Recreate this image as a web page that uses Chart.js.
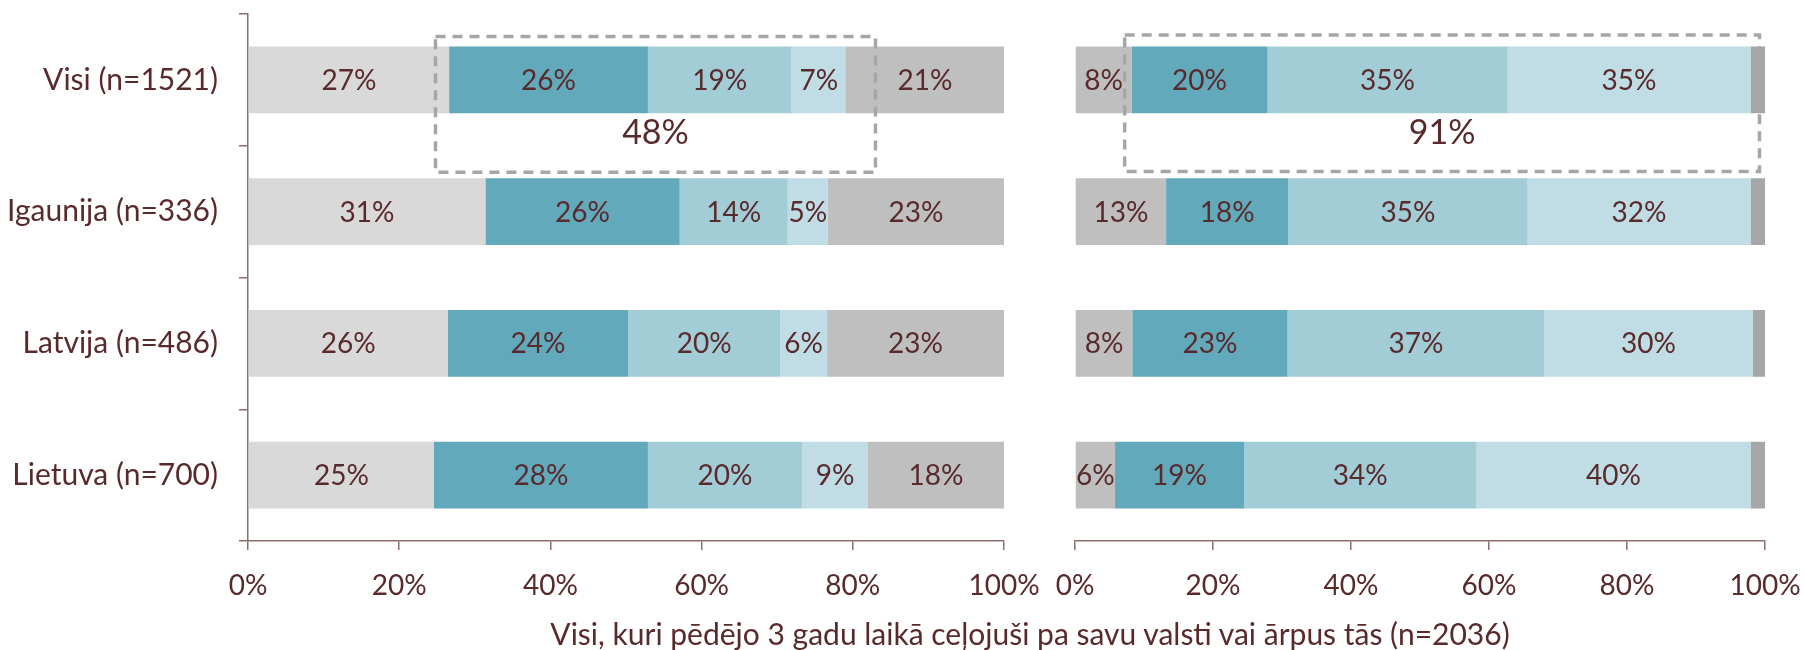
<!DOCTYPE html>
<html lang="lv">
<head>
  <meta charset="UTF-8">
  <title>Ceļojumi</title>
  <script src="https://cdn.jsdelivr.net/npm/chart.js"></script>
  <style>
    body {
      margin: 0;
      background: #fff;
    }

    .wrap {
      position: relative;
      width: 1804px;
      height: 650px;
      overflow: hidden;
      font-family: Lato, sans-serif;
    }

    canvas {
      position: absolute;
      left: 0;
      top: 0;
    }

    .nosaukums {
      position: absolute;
      top: 616px;
      left: 1030px;
      transform: translateX(-50%);
      white-space: nowrap;
      font-size: 30px;
      line-height: 34px;
      color: #592a2b;
    }
  </style>
</head>
<body>

  <div class="wrap">
    <canvas id="grafiksKreisais" width="1804" height="650" style="width:1804px;height:650px"></canvas>
    <canvas id="grafiksLabais" width="1804" height="650" style="width:1804px;height:650px"></canvas>
    <div class="nosaukums">Visi, kuri pēdējo 3 gadu laikā ceļojuši pa savu valsti vai ārpus tās (n=2036)</div>
  </div>

  <script>
    const kategorijas = ['Visi (n=1521)', 'Igaunija (n=336)', 'Latvija (n=486)', 'Lietuva (n=700)'];
    const xTicki = [0, 20, 40, 60, 80, 100];

    // kreisā daļa
    const kreisais1 = [26.6, 31.4, 26.4, 24.6];
    const kreisais2 = [26.3, 25.7, 23.9, 28.3];
    const kreisais3 = [19.0, 14.3, 20.1, 20.4];
    const kreisais4 = [7.2, 5.3, 6.2, 8.7];
    const kreisais5 = [20.9, 23.3, 23.4, 18.0];

    // labā daļa
    const labais1 = [8.2, 13.2, 8.3, 5.8];
    const labais2 = [19.7, 17.7, 22.5, 18.7];
    const labais3 = [34.8, 34.7, 37.2, 33.7];
    const labais4 = [35.2, 32.3, 30.2, 39.7];
    const labais5 = [2.1, 2.1, 1.8, 2.1];

    const kopa = ['48%', '91%'];

    const teksts = '#592a2b';
    const osa = '#8c6e6e';

    Chart.defaults.font.family = 'Lato, sans-serif';
    Chart.defaults.font.size = 28;
    Chart.defaults.color = teksts;

    // vērtības uz stabiņiem
    const vertibas = {
      id: 'vertibas',
      afterDatasetsDraw(chart) {
        const ctx = chart.ctx;
        ctx.save();
        ctx.font = '28px Lato, sans-serif';
        ctx.fillStyle = teksts;
        ctx.textAlign = 'center';
        ctx.textBaseline = 'middle';
        chart.data.datasets.forEach((ds, i) => {
          if (ds.bezEtiketes) return;
          chart.getDatasetMeta(i).data.forEach((bar, j) => {
            const { x, y, base } = bar.getProps(['x', 'y', 'base'], true);
            ctx.fillText(Math.round(ds.data[j]) + '%', (x + base) / 2, y + 1);
          });
        });
        ctx.restore();
      }
    };

    // raustītais rāmis ar kopsummu
    const ramis = {
      id: 'ramis',
      afterDatasetsDraw(chart, args, o) {
        const ctx = chart.ctx;
        const sx = chart.scales.x, sy = chart.scales.y;
        const l = sx.getPixelForValue(o.no), r = sx.getPixelForValue(o.lidz);
        const t = sy.getPixelForValue(o.augsa), b = sy.getPixelForValue(o.apaksa);
        ctx.save();
        ctx.strokeStyle = '#a6a6a6';
        ctx.lineWidth = 3.5;
        ctx.setLineDash([10, 7]);
        ctx.strokeRect(l, t, r - l, b - t);
        ctx.setLineDash([]);
        ctx.font = '34px Lato, sans-serif';
        ctx.fillStyle = teksts;
        ctx.textAlign = 'center';
        ctx.textBaseline = 'middle';
        ctx.fillText(o.teksts, sx.getPixelForValue(o.tx), sy.getPixelForValue(o.ty));
        ctx.restore();
      }
    };

    function bezPaddinga(s) {
      s.paddingTop = 0;
      s.paddingBottom = 0;
      s.paddingLeft = 0;
      s.paddingRight = 0;
    }

    function xAss() {
      return {
        stacked: true,
        min: 0,
        max: 100,
        border: { color: osa, width: 1.5 },
        grid: { drawOnChartArea: false, tickLength: 9, color: osa, lineWidth: 1.5 },
        ticks: { padding: 19, color: teksts, callback: v => v + '%' },
        afterBuildTicks(s) { s.ticks = xTicki.map(v => ({ value: v })); },
        afterFit(s) { s.height = 60; bezPaddinga(s); }
      };
    }

    function kopa1(label, data, color, extra) {
      return Object.assign({
        label, data,
        backgroundColor: color,
        borderWidth: 0,
        categoryPercentage: 0.506,
        barPercentage: 1
      }, extra || {});
    }

    new Chart(document.getElementById('grafiksKreisais'), {
      type: 'bar',
      data: {
        labels: kategorijas,
        datasets: [
          kopa1('a', kreisais1, '#d9d9d9'),
          kopa1('b', kreisais2, '#62a9bc'),
          kopa1('c', kreisais3, '#a3cdd6'),
          kopa1('d', kreisais4, '#c0dde5'),
          kopa1('e', kreisais5, '#bfbfbf')
        ]
      },
      options: {
        indexAxis: 'y',
        responsive: false,
        animation: false,
        layout: { padding: { left: 0, right: 800, top: 14, bottom: 49 } },
        scales: {
          x: xAss(),
          y: {
            stacked: true,
            border: { color: osa, width: 1.5 },
            grid: { drawOnChartArea: false, tickLength: 9, color: osa, lineWidth: 1.5, offset: true },
            ticks: { padding: 21, color: teksts, font: { size: 30 } },
            afterFit(s) { s.width = 248; bezPaddinga(s); }
          }
        },
        plugins: {
          legend: { display: false },
          tooltip: { enabled: false },
          ramis: { no: 24.8, lidz: 83.0, augsa: -0.33, apaksa: 0.702, teksts: kopa[0], tx: 53.9, ty: 0.407 }
        }
      },
      plugins: [vertibas, ramis]
    });

    new Chart(document.getElementById('grafiksLabais'), {
      type: 'bar',
      data: {
        labels: kategorijas,
        datasets: [
          kopa1('a', labais1, '#bfbfbf'),
          kopa1('b', labais2, '#62a9bc'),
          kopa1('c', labais3, '#a3cdd6'),
          kopa1('d', labais4, '#c0dde5'),
          kopa1('e', labais5, '#a6a6a6', { bezEtiketes: true })
        ]
      },
      options: {
        indexAxis: 'y',
        responsive: false,
        animation: false,
        layout: { padding: { left: 1075, right: 39, top: 14, bottom: 49 } },
        scales: {
          x: xAss(),
          y: { stacked: true, display: false }
        },
        plugins: {
          legend: { display: false },
          tooltip: { enabled: false },
          ramis: { no: 7.2, lidz: 99.2, augsa: -0.34, apaksa: 0.695, teksts: kopa[1], tx: 53.2, ty: 0.407 }
        }
      },
      plugins: [vertibas, ramis]
    });
  </script>

</body>
</html>
